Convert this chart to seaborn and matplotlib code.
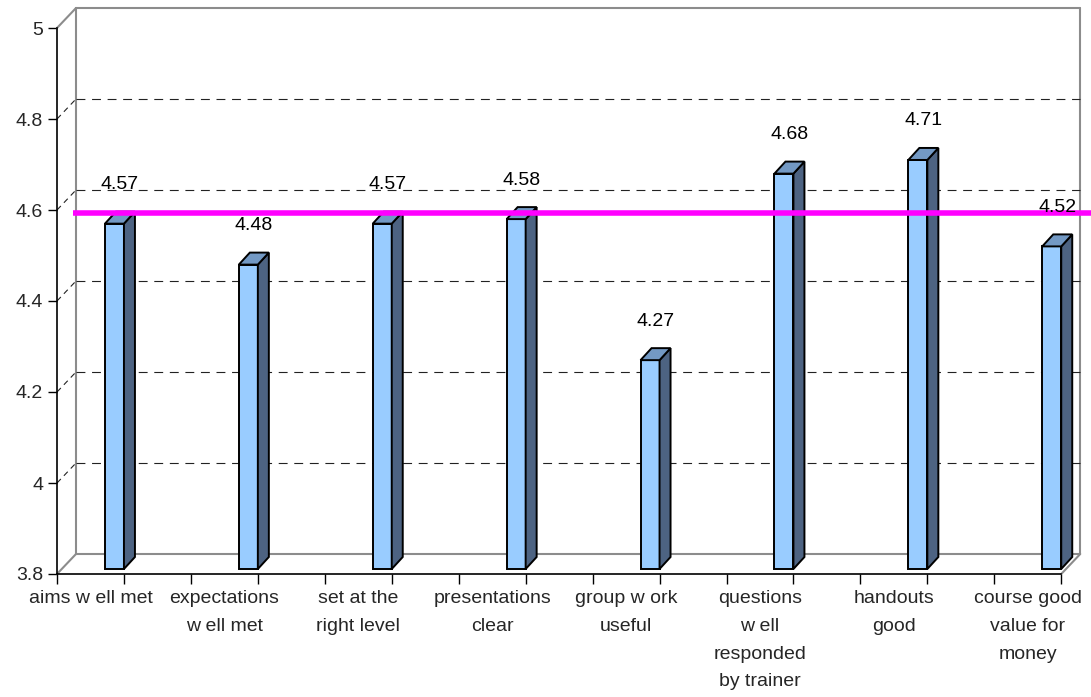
import numpy as np
import pandas as pd
import matplotlib
matplotlib.use("Agg")
import matplotlib.pyplot as plt
import seaborn as sns
from matplotlib.patches import Polygon

# ---- data ----
categories = ["aims w ell met", "expectations\nw ell met", "set at the\nright level",
              "presentations\nclear", "group w ork\nuseful",
              "questions\nw ell\nresponded\nby trainer", "handouts\ngood",
              "course good\nvalue for\nmoney"]
scores = [4.57, 4.48, 4.57, 4.58, 4.27, 4.68, 4.71, 4.52]
benchmark = 4.593
y_ticks = [3.8, 4.0, 4.2, 4.4, 4.6, 4.8, 5.0]
y_tick_labels = ["3.8", "4", "4.2", "4.4", "4.6", "4.8", "5"]
grid_values = [4.0, 4.2, 4.4, 4.6, 4.8]

sns.set_theme(style="white")
plt.rcParams['font.family'] = ['Liberation Sans', 'DejaVu Sans']

W, H = 1091, 697
fig = plt.figure(figsize=(W / 100, H / 100), dpi=100)

SX = 133.9            # px per category
L_PX, B_PX, T_PX = 57, 574, 28
xl, xr = -0.429, 7.071
ylo, yhi = 3.8, 5.0
ax_w_px = (xr - xl) * SX
ax = fig.add_axes([L_PX / W, (H - B_PX) / H, ax_w_px / W, (B_PX - T_PX) / H])

ux = 1.0 / SX
uy = (yhi - ylo) / (B_PX - T_PX)

df = pd.DataFrame({"cat": categories, "score": scores})
sns.barplot(data=df, x="cat", y="score", color="#99CCFF", saturation=1,
            width=19 * ux, edgecolor="black", linewidth=1.4, ax=ax, zorder=3)

ax.set_xlim(xl, xr)
ax.set_ylim(ylo, yhi)

bottom = ylo + 5 * uy
ddx, ddy = 11 * ux, 12 * uy
side_c, top_c = "#4D6382", "#7399C4"
for p, v in zip(list(ax.patches), scores):
    p.set_y(bottom)
    p.set_height(v - bottom)
    p.set_clip_on(False)
    x0 = p.get_x()
    x1 = x0 + p.get_width()
    side = Polygon([(x1, bottom), (x1 + ddx, bottom + ddy), (x1 + ddx, v + ddy), (x1, v)],
                   closed=True, facecolor=side_c, edgecolor="black", linewidth=1.4,
                   zorder=3, clip_on=False)
    top = Polygon([(x0, v), (x0 + ddx, v + ddy), (x1 + ddx, v + ddy), (x1, v)],
                  closed=True, facecolor=top_c, edgecolor="black", linewidth=1.4,
                  zorder=3, clip_on=False)
    ax.add_patch(side)
    ax.add_patch(top)
    ax.text((x0 + x1) / 2 + ddx / 2, v + ddy + 27 * uy, f"{v:.2f}", ha="center", va="center",
            fontsize=14, color="black", zorder=6, clip_on=False)

# 3D walls
wx, wy = 19 * ux, 20 * uy
gray = "#8C8C8C"
wall_kw = dict(color=gray, lw=1.5, clip_on=False, zorder=1)
ax.plot([xl + wx, xl + wx], [ylo + wy, yhi + wy], **wall_kw)
ax.plot([xl + wx, xr + wx], [yhi + wy, yhi + wy], **wall_kw)
ax.plot([xr + wx, xr + wx], [ylo + wy, yhi + wy], **wall_kw)
ax.plot([xl + wx, xr + wx], [ylo + wy, ylo + wy], **wall_kw)
ax.plot([xl, xl + wx], [yhi, yhi + wy], **wall_kw)
ax.plot([xl, xl + wx], [ylo, ylo + wy], **wall_kw)
ax.plot([xr, xr + wx], [ylo, ylo + wy], **wall_kw)

for g in grid_values:
    ax.plot([xl + wx, xr + wx], [g + wy, g + wy], color="#222222", lw=0.8,
            linestyle=(0, (8, 6)), clip_on=False, zorder=1)
    ax.plot([xl, xl + wx], [g, g + wy], color="#222222", lw=0.8,
            linestyle=(0, (5, 4)), clip_on=False, zorder=1)

# benchmark line
ax.plot([xl + (73 - L_PX) * ux, xl + (1091 - L_PX) * ux], [benchmark, benchmark],
        color="#FF00FF", lw=4.0, clip_on=False, zorder=5, solid_capstyle="butt")

# axes styling
for s in ["top", "right"]:
    ax.spines[s].set_visible(False)
for s in ["left", "bottom"]:
    ax.spines[s].set_color("black")
    ax.spines[s].set_linewidth(1.2)
ax.set_xlabel("")
ax.set_ylabel("")
ax.set_yticks(y_ticks, y_tick_labels)
ax.tick_params(axis="y", direction="out", length=6.5, width=1, color="black",
               pad=3.5, labelsize=14, left=True)
ax.set_xticks([xl + 0.5 * k for k in range(16)], [""] * 16)
ax.set_xticks([i - 0.179 for i in range(len(categories))], categories, minor=True)
ax.tick_params(axis="x", which="major", direction="out", length=7, width=1,
               color="black", bottom=True)
ax.tick_params(axis="x", which="minor", length=0, pad=11.5, labelsize=14)
for t in ax.get_xticklabels(minor=True):
    t.set_linespacing(1.83)
ax.grid(False)
ax.set_facecolor("white")
fig.patch.set_facecolor("white")

fig.savefig("out.png", dpi=100)
